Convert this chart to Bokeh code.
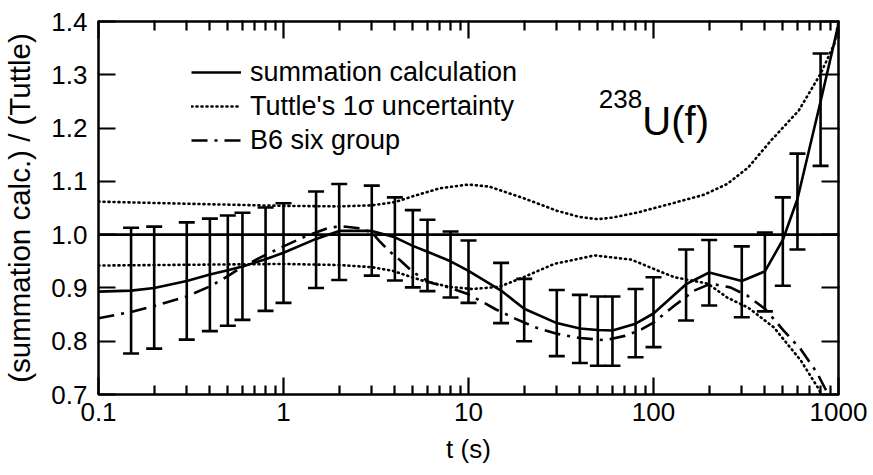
from bokeh.plotting import figure
from bokeh.models import (FixedTicker, CustomJSTickFormatter, Whisker, TeeHead, ColumnDataSource,
                          Span, Label, Legend, LegendItem, Range1d, LogAxis, LinearAxis)
from bokeh.embed import file_html
from bokeh.resources import INLINE

# ---------------- data ----------------
t_sum = [0.1, 0.15, 0.2, 0.3, 0.4, 0.5, 0.6, 0.8, 1, 1.5, 2, 3, 4, 5, 6, 8, 10, 15, 20, 30, 40,
         50, 60, 80, 100, 150, 200, 300, 400, 500, 600, 800, 1000]
summation = [0.893, 0.895, 0.900, 0.913, 0.925, 0.933, 0.940, 0.954, 0.966, 0.992, 1.007, 1.007,
             0.995, 0.979, 0.968, 0.950, 0.932, 0.895, 0.861, 0.834, 0.824, 0.821, 0.820, 0.833,
             0.852, 0.907, 0.929, 0.913, 0.931, 0.990, 1.067, 1.250, 1.395]

t_bar = [0.15, 0.2, 0.3, 0.4, 0.5, 0.6, 0.8, 1, 1.5, 2, 3, 4, 5, 6, 8, 10, 15, 20, 30, 40, 50, 60,
         80, 100, 150, 200, 300, 400, 500, 600, 800]
bar_hi = [1.013, 1.015, 1.023, 1.030, 1.036, 1.041, 1.051, 1.059, 1.081, 1.095, 1.092, 1.070,
          1.046, 1.028, 1.006, 0.989, 0.947, 0.917, 0.896, 0.887, 0.884, 0.884, 0.898, 0.920,
          0.972, 0.990, 0.978, 1.004, 1.070, 1.152, 1.340]
bar_lo = [0.777, 0.786, 0.803, 0.819, 0.829, 0.840, 0.857, 0.872, 0.900, 0.915, 0.923, 0.914,
          0.901, 0.894, 0.882, 0.872, 0.834, 0.800, 0.772, 0.759, 0.754, 0.754, 0.770, 0.789,
          0.839, 0.867, 0.845, 0.856, 0.904, 0.972, 1.129]

t_b6 = [0.1, 0.15, 0.2, 0.3, 0.4, 0.5, 0.6, 0.8, 1, 1.3, 1.7, 2, 2.6, 3, 3.3, 3.7, 4.3, 5, 6.2, 8,
        10, 12, 14, 18, 23, 30, 40, 55, 70, 86, 100, 130, 166, 204, 260, 320, 400, 505, 625, 770, 880]
b6_six_group = [0.843, 0.855, 0.866, 0.884, 0.903, 0.922, 0.940, 0.962, 0.978, 0.996, 1.011, 1.016,
                1.012, 1.004, 0.988, 0.970, 0.951, 0.930, 0.910, 0.900, 0.888, 0.873, 0.860, 0.842,
                0.826, 0.814, 0.806, 0.802, 0.810, 0.822, 0.835, 0.867, 0.895, 0.908, 0.901, 0.886,
                0.861, 0.820, 0.785, 0.739, 0.700]

t_tut_hi = [0.1, 0.3, 1, 2, 3, 4, 5, 7, 10, 13, 20, 30, 40, 50, 60, 83, 124, 188, 250, 325, 430,
            610, 800, 950, 1000]
tuttle_hi = [1.062, 1.058, 1.054, 1.053, 1.055, 1.061, 1.072, 1.087, 1.094, 1.090, 1.068, 1.045,
             1.033, 1.029, 1.032, 1.042, 1.058, 1.075, 1.095, 1.126, 1.176, 1.233, 1.302, 1.358, 1.40]

t_tut_lo = [0.1, 1, 2, 3, 3.9, 5.6, 7.9, 10.5, 14.6, 19.5, 29, 48, 76, 110, 130, 197, 250, 325,
            447, 625, 770, 820]
tuttle_lo = [0.942, 0.945, 0.943, 0.939, 0.932, 0.914, 0.902, 0.898, 0.902, 0.919, 0.945, 0.961,
             0.953, 0.930, 0.920, 0.908, 0.882, 0.863, 0.826, 0.764, 0.714, 0.696]

ref_level = 1.0

x_major = [0.1, 1, 10, 100, 1000]
x_minor = [0.2, 0.3, 0.4, 0.5, 0.6, 0.7, 0.8, 0.9,
           2, 3, 4, 5, 6, 7, 8, 9,
           20, 30, 40, 50, 60, 70, 80, 90,
           200, 300, 400, 500, 600, 700, 800, 900]
y_ticks = [0.7, 0.8, 0.9, 1.0, 1.1, 1.2, 1.3, 1.4]

legend_labels = ["summation calculation", "Tuttle's 1\u03c3 uncertainty", "B6 six group"]
x_label = "t (s)"
y_label = "(summation calc.) / (Tuttle)"

# ---------------- figure ----------------
FONT = "Liberation Sans"
LW = 2.6
X0, X1 = 0.1, 1000
Y0, Y1 = 0.7, 1.4

p = figure(width=873, height=475, x_axis_type="log",
           x_range=Range1d(X0, X1), y_range=Range1d(Y0, Y1),
           output_backend="svg", toolbar_location=None,
           min_border_left=94, min_border_right=35, min_border_top=21, min_border_bottom=81)
p.background_fill_color = "white"
p.border_fill_color = "white"
p.outline_line_color = "black"
p.outline_line_width = 2.5
p.xgrid.visible = False
p.ygrid.visible = False

x_ticker = FixedTicker(ticks=x_major, minor_ticks=x_minor)
y_ticker = FixedTicker(ticks=y_ticks, minor_ticks=[])


def style_axis(ax):
    ax.axis_line_color = None
    ax.major_tick_in = 17
    ax.major_tick_out = 0
    ax.minor_tick_in = 9
    ax.minor_tick_out = 0
    ax.major_tick_line_width = 2.2
    ax.minor_tick_line_width = 2.2
    ax.major_tick_line_color = "black"
    ax.minor_tick_line_color = "black"
    ax.major_label_text_font = FONT
    ax.major_label_text_font_size = "26px"
    ax.major_label_text_color = "black"
    ax.axis_label_text_font = FONT
    ax.axis_label_text_font_style = "normal"
    ax.axis_label_text_color = "black"


xa = p.xaxis[0]
xa.ticker = x_ticker
xa.formatter = CustomJSTickFormatter(code="return tick < 1 ? tick.toFixed(1) : tick.toFixed(0);")
style_axis(xa)
xa.major_label_standoff = 8
xa.axis_label = x_label
xa.axis_label_text_font_size = "26px"
xa.axis_label_standoff = 10

ya = p.yaxis[0]
ya.ticker = y_ticker
ya.formatter = CustomJSTickFormatter(code="return tick.toFixed(1);")
style_axis(ya)
ya.major_label_standoff = 11
ya.axis_label = y_label
ya.axis_label_text_font_size = "29.5px"
ya.axis_label_standoff = 12

# mirrored inward ticks on the top and right edges (labels left empty)
blank = CustomJSTickFormatter(code="return '';")
top = LogAxis(ticker=x_ticker, formatter=blank)
style_axis(top)
top.major_label_text_font_size = "1px"
top.major_tick_out = 1
top.minor_tick_out = 1
top.major_label_standoff = 1
p.add_layout(top, "above")
right = LinearAxis(ticker=y_ticker, formatter=blank)
style_axis(right)
right.major_label_text_font_size = "1px"
right.major_tick_out = 1
right.major_label_standoff = 1
p.add_layout(right, "right")

# reference line at 1.0
p.add_layout(Span(location=ref_level, dimension="width", line_color="black", line_width=LW))

# curves
dot = dict(line_color="black", line_width=2.6, line_dash="1 4", line_cap="round")
r_tut_hi = p.line(t_tut_hi, tuttle_hi, **dot)
r_tut_lo = p.line(t_tut_lo, tuttle_lo, **dot)
r_b6 = p.line(t_b6, b6_six_group, line_color="black", line_width=LW, line_dash="16 7 3 7")
r_sum = p.line(t_sum, summation, line_color="black", line_width=LW)

# error bars
src = ColumnDataSource(data=dict(base=t_bar, upper=bar_hi, lower=bar_lo))
head = dict(size=16, line_width=LW, line_color="black")
p.add_layout(Whisker(source=src, base="base", upper="upper", lower="lower", dimension="height",
                     line_color="black", line_width=LW,
                     upper_head=TeeHead(**head), lower_head=TeeHead(**head)))

# legend (location = bottom-left corner of the legend box, px from the frame's bottom-left)
legend = Legend(items=[LegendItem(label=legend_labels[0], renderers=[r_sum]),
                       LegendItem(label=legend_labels[1], renderers=[r_tut_hi]),
                       LegendItem(label=legend_labels[2], renderers=[r_b6])],
                location=(93, 237), padding=0, margin=0, border_line_color=None,
                background_fill_alpha=0, label_text_font=FONT, label_text_font_size="27px",
                label_text_color="black",
                glyph_width=50, glyph_height=34, label_height=34, spacing=0, label_standoff=9)
p.add_layout(legend)

# nuclide label
p.add_layout(Label(x=50.6, y=1.255, text="238", text_font=FONT, text_font_size="26px",
                   text_baseline="alphabetic", text_color="black"))
p.add_layout(Label(x=87, y=1.214, text="U(f)", text_font=FONT, text_font_size="40px",
                   text_baseline="alphabetic", text_color="black"))

open("out.html", "w").write(file_html(p, INLINE))
